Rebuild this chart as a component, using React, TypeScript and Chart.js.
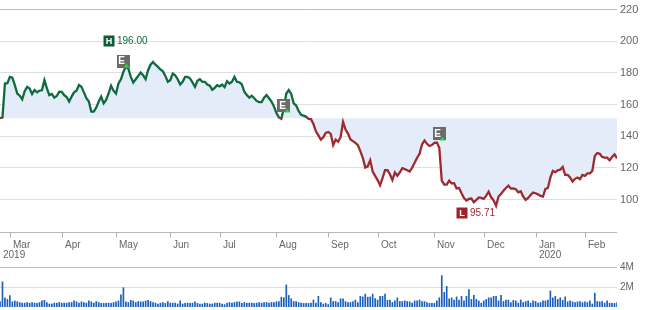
import React, { useEffect, useRef } from "react";
import { Chart, registerables } from "chart.js";
Chart.register(...registerables);

// Daily closes, trading-day index 0..250
const closes: number[] = [
  151.4, 151.8, 173.3, 173.5, 177.5, 177.0, 172.3, 167.0, 165.6, 163.3,
  168.5, 171.2, 170.2, 166.7, 169.2, 167.7, 168.8, 169.0, 175.4, 170.2,
  166.0, 166.7, 164.4, 165.4, 168.1, 168.0, 166.0, 164.8, 161.9, 165.0,
  167.7, 168.8, 172.3, 171.2, 167.7, 164.0, 161.9, 155.6, 155.6, 158.1,
  161.9, 165.0, 160.8, 162.9, 167.0, 171.9, 168.8, 167.0, 173.3, 176.0,
  180.6, 184.2, 182.7, 177.5, 174.0, 176.0, 178.1, 180.2, 178.5, 176.0,
  181.7, 185.2, 186.9, 185.2, 183.8, 182.2, 181.0, 178.1, 174.4, 175.4,
  179.6, 178.5, 176.0, 172.7, 174.4, 177.5, 177.5, 176.5, 174.0, 171.2,
  175.0, 176.0, 174.4, 174.4, 172.7, 171.9, 169.4, 170.6, 172.3, 171.5,
  172.7, 171.0, 174.8, 173.3, 174.4, 177.5, 174.4, 174.0, 172.7, 168.1,
  166.0, 164.4, 165.6, 164.0, 162.3, 161.5, 161.5, 164.4, 166.0, 164.0,
  161.9, 158.8, 154.6, 151.9, 151.0, 157.7, 167.0, 169.2, 166.7, 160.8,
  159.4, 156.0, 153.5, 153.0, 152.4, 151.0, 150.8, 147.7, 143.1, 140.5,
  137.9, 139.4, 142.1, 142.7, 141.5, 134.4, 137.9, 136.5, 139.4, 149.0,
  144.2, 141.7, 137.9, 136.9, 135.8, 134.4, 130.6, 126.4, 120.2, 121.0,
  124.8, 117.7, 115.0, 112.3, 109.0, 113.6, 118.5, 118.5, 116.0, 112.3,
  117.1, 115.0, 117.1, 119.8, 119.2, 118.5, 117.7, 120.2, 123.3, 126.4,
  128.9, 134.8, 137.3, 135.2, 133.8, 134.4, 135.8, 136.0, 132.7, 111.9,
  109.4, 109.4, 111.9, 110.2, 110.3, 107.0, 107.3, 104.0, 101.0, 99.4,
  100.4, 100.6, 98.3, 99.8, 101.3, 101.0, 100.4, 102.5, 105.0, 101.4,
  99.5, 96.0, 101.9, 103.5, 105.6, 107.3, 108.8, 106.9, 107.1, 106.5,
  104.6, 105.2, 101.9, 99.8, 101.0, 102.9, 104.4, 104.0, 103.3, 102.3,
  101.9, 106.7, 107.3, 113.9, 118.1, 117.3, 118.5, 118.9, 120.6, 115.6,
  115.6, 113.9, 111.4, 113.1, 113.9, 112.9, 115.6, 115.0, 116.5, 116.5,
  118.1, 127.5, 129.4, 128.9, 126.9, 126.5, 126.5, 124.8, 126.9, 128.5,
  126.0,
];

// Daily volume, millions
const volumes: number[] = [
  0.55, 2.52, 0.92, 0.76, 1.13, 0.52, 0.61, 0.52, 0.45, 0.39,
  0.39, 0.45, 0.39, 0.45, 0.39, 0.36, 0.45, 0.61, 0.67, 0.45,
  0.30, 0.30, 0.39, 0.39, 0.45, 0.39, 0.39, 0.39, 0.45, 0.45,
  0.61, 0.52, 0.39, 0.52, 0.45, 0.39, 0.61, 0.52, 0.39, 0.55,
  0.45, 0.36, 0.36, 0.36, 0.39, 0.36, 0.45, 0.52, 0.61, 1.22,
  1.93, 0.52, 0.45, 0.67, 0.61, 0.45, 0.55, 0.52, 0.52, 0.61,
  0.67, 0.55, 0.45, 0.39, 0.30, 0.39, 0.45, 0.36, 0.55, 0.39,
  0.39, 0.39, 0.30, 0.61, 0.30, 0.36, 0.39, 0.36, 0.39, 0.52,
  0.36, 0.30, 0.30, 0.39, 0.36, 0.30, 0.30, 0.39, 0.39, 0.39,
  0.30, 0.24, 0.39, 0.45, 0.39, 0.45, 0.52, 0.52, 0.36, 0.45, 0.39,
  0.39, 0.39, 0.36, 0.39, 0.45, 0.39, 0.45, 0.45, 0.39, 0.45,
  0.45, 0.52, 0.55, 0.98, 0.92, 2.21, 1.16, 0.82, 0.55, 0.55,
  0.45, 0.39, 0.36, 0.36, 0.36, 0.39, 0.70, 0.39, 1.07,
  0.45, 0.30, 0.36, 0.24, 0.92, 0.55, 0.55, 0.45, 0.82, 0.82,
  0.55, 0.45, 0.45, 0.55, 0.70, 0.45, 1.07, 1.01, 1.29, 0.98,
  1.01, 1.29, 0.85, 0.70, 1.07, 1.07, 1.29, 0.67, 0.70, 0.45,
  0.61, 0.92, 0.55, 0.55, 0.61, 0.55, 0.52, 0.39, 0.61,
  0.61, 0.70, 0.55, 0.55, 0.45, 0.36, 0.36, 0.36, 0.61, 0.92,
  3.14, 1.47, 2.06, 0.82, 0.92, 0.70, 1.01, 0.70, 1.07, 0.61,
  1.07, 1.75, 0.76, 1.16, 0.76, 0.61, 0.39, 0.61, 0.76, 0.92,
  0.92, 1.07, 1.07, 0.61, 1.16, 0.55, 0.70, 0.70, 0.45, 0.67,
  0.61, 0.39, 0.70, 0.45, 0.55, 0.61, 0.39, 0.61, 0.55,
  0.39, 0.45, 0.61, 0.61, 0.70, 1.6, 0.92, 1.07, 0.76, 0.92,
  0.67, 1.01, 0.52, 0.61, 0.52, 0.45, 0.52, 0.55, 0.45, 0.52,
  0.45, 0.61, 0.30, 1.38, 0.55, 0.52, 0.55, 0.39, 0.61, 0.39,
  0.36, 0.36, 0.45,
];

const monthLabels = ["Mar", "Apr", "May", "Jun", "Jul", "Aug", "Sep", "Oct", "Nov", "Dec", "Jan", "Feb"];
const monthIdx = [4, 25, 47, 69, 89, 112, 133, 153, 176, 196, 217, 237];
const yearLabels = ["2019", "2020"];
const yearIdx = [0, 217];
const priceTicks = [100, 120, 140, 160, 180, 200, 220];
const volTicks = [2, 4];
const baseline = 151.4;

const highText = "196.00";
const highAt = [44.3, 200.4];
const lowText = "95.71";
const lowAt = [187.2, 91.7];
const earningsIdx = [49.8, 114.9, 177.9];
const earningsVal = [187.5, 159.4, 141.6];

const GREEN = "#0d6b3d";
const RED = "#9e2a30";
const FONT = '"Liberation Sans", Arial, Helvetica, sans-serif';

const pricePlugin = {
  id: "priceDecor",
  afterDatasetsDraw(chart: any) {
    const { ctx, chartArea, scales } = chart;
    const xs = scales.x, ys = scales.y;
    ctx.save();
    // x axis line
    const by = Math.round(chartArea.bottom) + 0.5;
    ctx.strokeStyle = "#b8b8b8";
    ctx.lineWidth = 1;
    ctx.beginPath();
    ctx.moveTo(chartArea.left, by);
    ctx.lineTo(chartArea.right, by);
    ctx.stroke();
    // month ticks + labels
    ctx.font = `10px ${FONT}`;
    ctx.textBaseline = "middle";
    ctx.textAlign = "left";
    monthIdx.forEach((m, k) => {
      const px = Math.round(xs.getPixelForValue(m)) + 0.5;
      ctx.strokeStyle = "#b0b0b0";
      ctx.beginPath();
      ctx.moveTo(px, by);
      ctx.lineTo(px, by + 5);
      ctx.stroke();
      ctx.fillStyle = "#666";
      ctx.fillText(monthLabels[k], px + 2.5, by + 12.5);
    });
    yearIdx.forEach((m, k) => {
      const px = Math.round(xs.getPixelForValue(m)) + 0.5;
      ctx.fillStyle = "#666";
      ctx.fillText(yearLabels[k], px + 2.5, by + 23);
    });

    // earnings markers
    earningsIdx.forEach((m, k) => {
      const cx = xs.getPixelForValue(m);
      const cy = ys.getPixelForValue(earningsVal[k]);
      const s = 12.5;
      ctx.fillStyle = "#6b6b6b";
      ctx.fillRect(Math.round(cx - s / 2), Math.round(cy - s / 2), 13, 13);
      ctx.fillStyle = "#fff";
      ctx.font = `bold 10px ${FONT}`;
      ctx.textAlign = "center";
      ctx.textBaseline = "middle";
      ctx.fillText("E", Math.round(cx) - 1.5, Math.round(cy) + 0.5);
      ctx.fillStyle = "#2fd62f";
      ctx.beginPath();
      ctx.moveTo(Math.round(cx) + 3.5, Math.round(cy) + 3);
      ctx.lineTo(Math.round(cx) + 6.5, Math.round(cy) + 6.5);
      ctx.lineTo(Math.round(cx) + 0.5, Math.round(cy) + 6.5);
      ctx.closePath();
      ctx.fill();
    });

    // high / low
    const drawTag = (at: number[], letter: string, text: string, boxColor: string, textColor: string) => {
      const cx = Math.round(xs.getPixelForValue(at[0]));
      const cy = Math.round(ys.getPixelForValue(at[1]));
      ctx.fillStyle = boxColor;
      ctx.fillRect(cx - 5.5, cy - 5.5, 11, 11);
      ctx.fillStyle = "#fff";
      ctx.font = `bold 9px ${FONT}`;
      ctx.textAlign = "center";
      ctx.textBaseline = "middle";
      ctx.fillText(letter, cx, cy + 0.5);
      ctx.fillStyle = textColor;
      ctx.font = `10px ${FONT}`;
      ctx.textAlign = "left";
      ctx.fillText(text, cx + 8, cy + 0.5);
    };
    drawTag(highAt, "H", highText, "#0b5c37", GREEN);
    drawTag(lowAt, "L", lowText, "#9b252b", RED);
    ctx.restore();
  },
};

export default function App() {
  const priceRef = useRef<HTMLCanvasElement>(null);
  const volRef = useRef<HTMLCanvasElement>(null);

  useEffect(() => {
    Chart.defaults.font.family = FONT;
    const lineColor = (c: any) => {
      const chart = c.chart;
      const { chartArea, scales } = chart;
      if (!chartArea) return GREEN;
      const yb = scales.y.getPixelForValue(baseline);
      const t = Math.min(1, Math.max(0, (yb - chartArea.top) / (chartArea.bottom - chartArea.top)));
      const g = chart.ctx.createLinearGradient(0, chartArea.top, 0, chartArea.bottom);
      g.addColorStop(0, GREEN);
      g.addColorStop(t, GREEN);
      g.addColorStop(t, RED);
      g.addColorStop(1, RED);
      return g;
    };

    const priceChart = new Chart(priceRef.current as HTMLCanvasElement, {
      type: "line",
      data: {
        datasets: [
          {
            data: closes.map((v, i) => ({ x: i, y: v })),
            borderColor: lineColor,
            borderWidth: 2.3,
            pointRadius: 0,
            tension: 0,
            fill: { value: baseline },
            backgroundColor: "#e4ecf9",
          },
        ],
      },
      options: {
        responsive: false,
        animation: false,
        layout: { padding: { left: 0, right: 0, top: 7, bottom: 28 } },
        plugins: { legend: { display: false }, tooltip: { enabled: false } },
        scales: {
          x: { type: "linear", min: 0, max: 250, display: false },
          y: {
            type: "linear",
            position: "right",
            min: 79.5,
            max: 220,
            afterBuildTicks: (s: any) => {
              s.ticks = priceTicks.map((v) => ({ value: v }));
            },
            afterFit: (s: any) => {
              s.width = 28;
            },
            grid: {
              color: (c: any) => (c.tick && c.tick.value === 220 ? "#bdbdbd" : "#dedede"),
              drawTicks: false,
            },
            border: { display: false },
            ticks: { color: "#666", padding: 3, font: { size: 11 } },
          },
        },
      },
      plugins: [pricePlugin],
    } as any);

    const volChart = new Chart(volRef.current as HTMLCanvasElement, {
      type: "bar",
      data: {
        datasets: [
          {
            data: volumes.map((v, i) => ({ x: i, y: v })),
            backgroundColor: "#1a5fbd",
            barThickness: 1,
          },
        ],
      },
      options: {
        responsive: false,
        animation: false,
        layout: { padding: { left: 0, right: 0, top: 8.7, bottom: 0 } },
        plugins: { legend: { display: false }, tooltip: { enabled: false } },
        scales: {
          x: { type: "linear", min: 0, max: 250, display: false, offset: false },
          y: {
            type: "linear",
            position: "right",
            min: 0,
            max: 4,
            afterBuildTicks: (s: any) => {
              s.ticks = volTicks.map((v) => ({ value: v }));
            },
            afterFit: (s: any) => {
              s.width = 28;
            },
            grid: {
              color: (c: any) => (c.tick && c.tick.value === 4 ? "#bdbdbd" : "#dedede"),
              drawTicks: false,
            },
            border: { display: false },
            ticks: { color: "#666", padding: 3, font: { size: 10 }, callback: (v: any) => v + "M" },
          },
        },
      },
    } as any);

    return () => {
      priceChart.destroy();
      volChart.destroy();
    };
  }, []);

  return (
    <div style={{ position: "fixed", left: 0, top: 0, width: 645, height: 310, background: "#fff", overflow: "hidden" }}>
      <canvas ref={priceRef} width={645} height={260} style={{ position: "absolute", left: 0, top: 0 }} />
      <canvas ref={volRef} width={645} height={58} style={{ position: "absolute", left: 0, top: 258 }} />
    </div>
  );
}
